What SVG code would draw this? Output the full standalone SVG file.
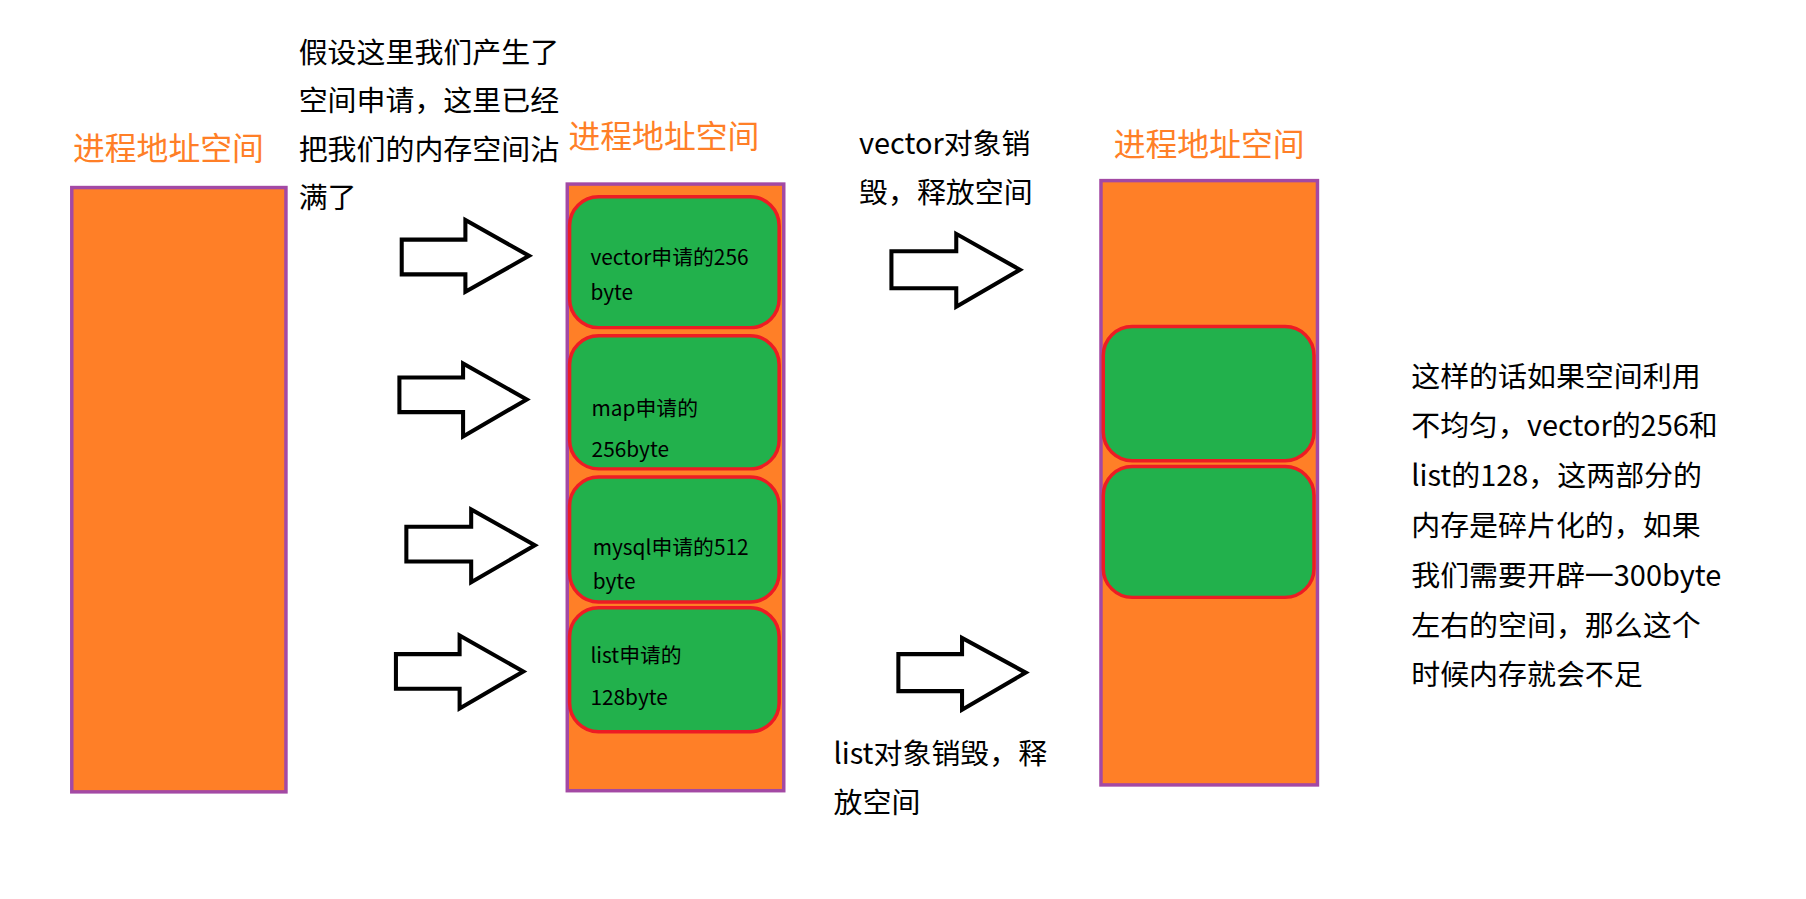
<svg xmlns="http://www.w3.org/2000/svg" width="1806" height="899" viewBox="0 0 1806 899">
<style>
.col{fill:#FF7F27;stroke:#A349A4;stroke-width:3}
.blk{fill:#22B14C;stroke:#ED1C24;stroke-width:3}
.arr{fill:#fff;stroke:#000;stroke-width:3.5}
.t{font-family:"Noto Sans CJK SC","Microsoft YaHei",sans-serif;font-size:25px;fill:#000}
.h{font-family:"Noto Sans CJK SC",sans-serif;font-size:27.5px;fill:#FF7F27}
.s{font-family:"Noto Sans CJK SC",sans-serif;font-size:18px;fill:#000}
</style>
<rect width="1806" height="899" fill="#fff"/>
<g transform="scale(1.1577)">
<g id="col1"><text class="h" x="63" y="138">进程地址空间</text><rect class="col" x="62" y="162" width="185" height="522"/></g>
<g id="col2"><text class="h" x="491" y="128">进程地址空间</text><rect class="col" x="490" y="159" width="187" height="524"/>
<rect class="blk" x="492" y="170" width="181" height="113" rx="25"/>
<rect class="blk" x="492" y="290" width="181" height="115" rx="25"/>
<rect class="blk" x="492" y="412" width="181" height="108" rx="25"/>
<rect class="blk" x="492" y="525" width="181" height="107" rx="25"/>
<text class="s" x="510" y="229">vector申请的256</text><text class="s" x="510" y="259">byte</text>
<text class="s" x="511" y="359">map申请的</text><text class="s" x="511" y="395">256byte</text>
<text class="s" x="512" y="479">mysql申请的512</text><text class="s" x="512" y="509">byte</text>
<text class="s" x="510" y="573">list申请的</text><text class="s" x="510" y="609">128byte</text></g>
<g id="col3"><text class="h" x="962" y="135">进程地址空间</text><rect class="col" x="951" y="156" width="187" height="522"/>
<rect class="blk" x="953" y="282" width="182" height="116" rx="25"/>
<rect class="blk" x="953" y="403" width="182" height="113" rx="25"/></g>
<g id="connectors">
<path class="arr" d="M347 207H402V190L457 221L402 252V237H347Z"/>
<path class="arr" d="M345 326H400V314L455 345L400 377V356H345Z"/>
<path class="arr" d="M351 455H407V440L462 471L407 503V485H351Z"/>
<path class="arr" d="M342 565H397V549L452 580L397 612V595H342Z"/>
<path class="arr" d="M770 217H826V202L881 233L826 265V249H770Z"/>
<path class="arr" d="M776 565H831V551L886 581L831 613V597H776Z"/>
</g>
<g id="texts">
<text class="t" x="258" y="54">假设这里我们产生了</text>
<text class="t" x="258" y="96">空间申请，这里已经</text>
<text class="t" x="258" y="138">把我们的内存空间沾</text>
<text class="t" x="258" y="180">满了</text>
<text class="t" x="742" y="133">vector对象销</text>
<text class="t" x="742" y="175">毁，释放空间</text>
<text class="t" x="720" y="660">list对象销毁，释</text>
<text class="t" x="720" y="702">放空间</text>
<text class="t" x="1219" y="334">这样的话如果空间利用</text>
<text class="t" x="1219" y="377">不均匀，vector的256和</text>
<text class="t" x="1219" y="420">list的128，这两部分的</text>
<text class="t" x="1219" y="463">内存是碎片化的，如果</text>
<text class="t" x="1219" y="506">我们需要开辟一300byte</text>
<text class="t" x="1219" y="549">左右的空间，那么这个</text>
<text class="t" x="1219" y="592">时候内存就会不足</text>
</g>
</g>
</svg>
